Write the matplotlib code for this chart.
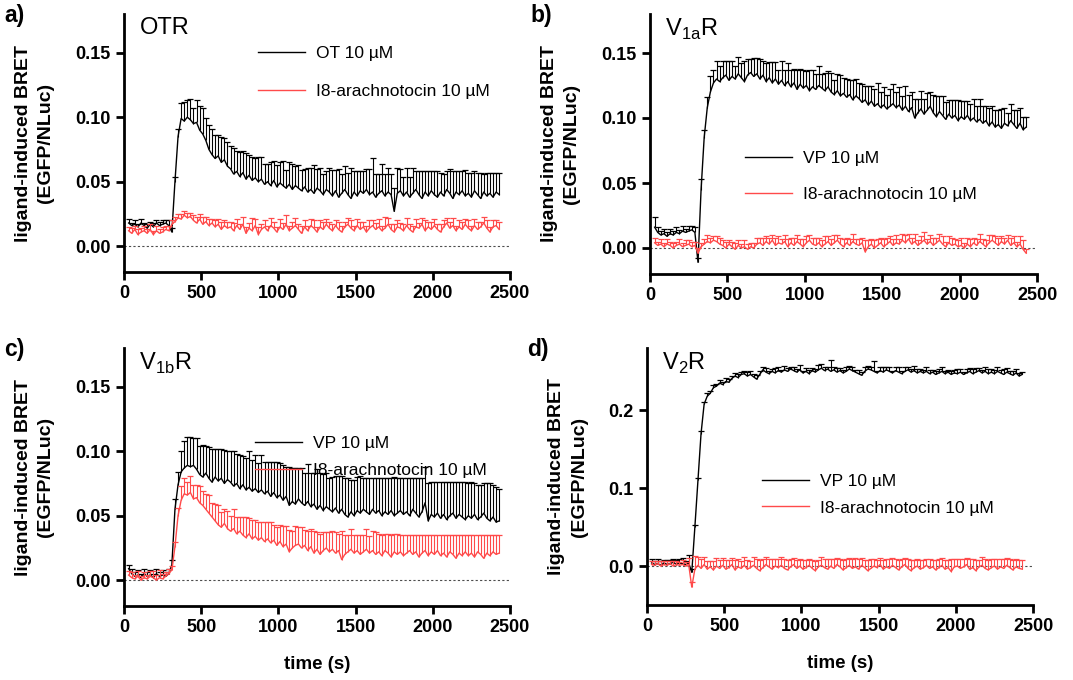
import matplotlib.pyplot as plt
import numpy as np
from matplotlib.ticker import FormatStrFormatter

plt.rcParams['font.family'] = ['Liberation Sans', 'DejaVu Sans']

# sampling grid of the kinetic read (s)
time_s = np.arange(30, 2431, 20)

# ---- a) OTR ----
ot_otr = [
    0.018, 0.016, 0.017, 0.015, 0.018, 0.016, 0.014, 0.017, 0.015, 0.018, 0.016,
    0.017, 0.018, 0.016, 0.011, 0.050, 0.085, 0.099, 0.097, 0.100, 0.098, 0.095,
    0.096, 0.090, 0.087, 0.082, 0.075, 0.071, 0.068, 0.070, 0.065, 0.067, 0.062,
    0.060, 0.056, 0.058, 0.054, 0.057, 0.052, 0.055, 0.051, 0.053, 0.050, 0.052,
    0.048, 0.050, 0.047, 0.051, 0.046, 0.049, 0.047, 0.045, 0.048, 0.044, 0.047,
    0.045, 0.043, 0.046, 0.042, 0.044, 0.041, 0.045, 0.043, 0.040, 0.044, 0.042,
    0.039, 0.043, 0.038, 0.041, 0.044, 0.040, 0.037, 0.042, 0.039, 0.043, 0.041,
    0.044, 0.040, 0.042, 0.038, 0.041, 0.043, 0.039, 0.042, 0.040, 0.027, 0.041,
    0.043, 0.039, 0.042, 0.038, 0.041, 0.044, 0.040, 0.037, 0.042, 0.039, 0.043,
    0.040, 0.038, 0.042, 0.039, 0.044, 0.041, 0.037, 0.042, 0.040, 0.043, 0.039,
    0.041, 0.038, 0.043, 0.040, 0.037, 0.042, 0.039, 0.041, 0.038, 0.042, 0.040]
ot_otr_err = [
    0.003, 0.002, 0.003, 0.002, 0.003, 0.002, 0.003, 0.002, 0.003, 0.002, 0.003,
    0.003, 0.002, 0.004, 0.003, 0.004, 0.006, 0.012, 0.015, 0.013, 0.016, 0.012,
    0.017, 0.019, 0.020, 0.017, 0.019, 0.020, 0.018, 0.016, 0.020, 0.017, 0.019,
    0.018, 0.020, 0.016, 0.019, 0.017, 0.020, 0.016, 0.018, 0.015, 0.019, 0.017,
    0.016, 0.014, 0.018, 0.015, 0.017, 0.016, 0.019, 0.014, 0.017, 0.020, 0.015,
    0.018, 0.016, 0.014, 0.019, 0.017, 0.022, 0.015, 0.018, 0.016, 0.014, 0.019,
    0.020, 0.016, 0.022, 0.015, 0.018, 0.017, 0.024, 0.016, 0.019, 0.015, 0.017,
    0.016, 0.020, 0.026, 0.018, 0.015, 0.021, 0.017, 0.019, 0.016, 0.018, 0.020,
    0.017, 0.015, 0.019, 0.016, 0.020, 0.014, 0.018, 0.021, 0.016, 0.019, 0.015,
    0.018, 0.020, 0.015, 0.017, 0.014, 0.019, 0.021, 0.016, 0.018, 0.015, 0.020,
    0.016, 0.019, 0.015, 0.017, 0.020, 0.014, 0.018, 0.016, 0.019, 0.015, 0.017]
i8_otr = [
    0.012, 0.010, 0.013, 0.009, 0.011, 0.012, 0.010, 0.013, 0.009, 0.012, 0.010,
    0.011, 0.013, 0.012, 0.017, 0.019, 0.022, 0.021, 0.024, 0.022, 0.023, 0.020,
    0.018, 0.021, 0.017, 0.019, 0.016, 0.018, 0.015, 0.017, 0.013, 0.016, 0.014,
    0.015, 0.012, 0.016, 0.013, 0.017, 0.010, 0.014, 0.012, 0.016, 0.009, 0.013,
    0.015, 0.012, 0.016, 0.014, 0.011, 0.015, 0.013, 0.017, 0.012, 0.014, 0.016,
    0.013, 0.010, 0.015, 0.012, 0.016, 0.014, 0.011, 0.015, 0.013, 0.017, 0.014,
    0.012, 0.016, 0.013, 0.011, 0.015, 0.017, 0.014, 0.012, 0.016, 0.013, 0.015,
    0.011, 0.014, 0.016, 0.013, 0.015, 0.012, 0.014, 0.017, 0.013, 0.011, 0.015,
    0.014, 0.012, 0.016, 0.013, 0.011, 0.015, 0.014, 0.017, 0.012, 0.015, 0.013,
    0.016, 0.013, 0.011, 0.015, 0.018, 0.014, 0.016, 0.012, 0.015, 0.013, 0.017,
    0.014, 0.012, 0.016, 0.013, 0.015, 0.018, 0.014, 0.011, 0.015, 0.016, 0.013]
i8_otr_err = [
    0.003, 0.004, 0.003, 0.004, 0.003, 0.004, 0.003, 0.004, 0.003, 0.004, 0.003,
    0.004, 0.003, 0.004, 0.003, 0.004, 0.003, 0.004, 0.003, 0.004, 0.003, 0.004,
    0.005, 0.004, 0.006, 0.004, 0.005, 0.003, 0.005, 0.004, 0.006, 0.004, 0.005,
    0.004, 0.006, 0.005, 0.004, 0.006, 0.005, 0.004, 0.010, 0.005, 0.006, 0.004,
    0.005, 0.004, 0.006, 0.005, 0.004, 0.006, 0.005, 0.007, 0.004, 0.005, 0.006,
    0.004, 0.006, 0.005, 0.004, 0.005, 0.006, 0.004, 0.005, 0.006, 0.004, 0.005,
    0.005, 0.004, 0.006, 0.005, 0.004, 0.005, 0.006, 0.004, 0.005, 0.006, 0.004,
    0.005, 0.006, 0.004, 0.005, 0.006, 0.004, 0.009, 0.005, 0.004, 0.006, 0.005,
    0.004, 0.005, 0.006, 0.004, 0.005, 0.006, 0.004, 0.005, 0.008, 0.004, 0.006,
    0.005, 0.004, 0.006, 0.005, 0.004, 0.005, 0.006, 0.004, 0.005, 0.006, 0.004,
    0.006, 0.004, 0.005, 0.006, 0.004, 0.005, 0.006, 0.004, 0.005, 0.004, 0.006]

# ---- b) V1aR ----
vp_v1a = [
    0.016, 0.012, 0.010, 0.011, 0.009, 0.011, 0.010, 0.012, 0.011, 0.013, 0.012,
    0.013, 0.014, 0.012, -0.011, 0.045, 0.085, 0.108, 0.120, 0.127, 0.130, 0.128,
    0.131, 0.133, 0.129, 0.132, 0.130, 0.134, 0.131, 0.128, 0.133, 0.135, 0.132,
    0.134, 0.130, 0.133, 0.128, 0.131, 0.127, 0.130, 0.126, 0.129, 0.125, 0.128,
    0.124, 0.127, 0.122, 0.126, 0.123, 0.125, 0.121, 0.124, 0.122, 0.125, 0.123,
    0.121, 0.124, 0.120, 0.118, 0.121, 0.117, 0.119, 0.116, 0.118, 0.114, 0.117,
    0.115, 0.112, 0.114, 0.110, 0.113, 0.109, 0.111, 0.108, 0.110, 0.107, 0.109,
    0.111, 0.108, 0.110, 0.106, 0.109, 0.105, 0.108, 0.100, 0.104, 0.107, 0.103,
    0.106, 0.109, 0.104, 0.101, 0.105, 0.102, 0.099, 0.103, 0.100, 0.102, 0.098,
    0.101, 0.099, 0.102, 0.098, 0.100, 0.097, 0.099, 0.096, 0.098, 0.094, 0.097,
    0.093, 0.095, 0.092, 0.096, 0.094, 0.098, 0.095, 0.092, 0.096, 0.091, 0.093]
vp_v1a_err = [
    0.008, 0.004, 0.003, 0.004, 0.003, 0.004, 0.003, 0.004, 0.003, 0.004, 0.003,
    0.004, 0.003, 0.004, 0.003, 0.008, 0.006, 0.008, 0.012, 0.010, 0.014, 0.012,
    0.013, 0.011, 0.015, 0.012, 0.010, 0.013, 0.011, 0.016, 0.012, 0.010, 0.014,
    0.012, 0.015, 0.011, 0.014, 0.012, 0.016, 0.013, 0.011, 0.015, 0.012, 0.014,
    0.013, 0.011, 0.015, 0.012, 0.014, 0.011, 0.016, 0.013, 0.012, 0.015, 0.011,
    0.014, 0.012, 0.015, 0.011, 0.013, 0.016, 0.012, 0.014, 0.011, 0.015, 0.013,
    0.012, 0.014, 0.011, 0.015, 0.012, 0.013, 0.016, 0.012, 0.014, 0.011, 0.013,
    0.015, 0.012, 0.014, 0.011, 0.016, 0.013, 0.012, 0.015, 0.011, 0.014, 0.012,
    0.013, 0.011, 0.014, 0.016, 0.012, 0.015, 0.013, 0.011, 0.014, 0.012, 0.016,
    0.012, 0.014, 0.011, 0.013, 0.015, 0.012, 0.016, 0.013, 0.011, 0.014, 0.012,
    0.013, 0.011, 0.015, 0.012, 0.010, 0.013, 0.011, 0.014, 0.012, 0.010, 0.008]
i8_v1a = [
    0.004, 0.002, 0.003, 0.001, 0.003, 0.002, 0.000, 0.002, 0.003, 0.001, 0.002,
    0.003, 0.001, 0.002, -0.004, 0.001, 0.003, 0.005, 0.004, 0.006, 0.005, 0.003,
    0.002, 0.000, 0.003, 0.001, -0.001, 0.002, 0.000, 0.001, -0.001, 0.001, 0.000,
    0.003, 0.004, 0.002, 0.005, 0.003, 0.006, 0.002, 0.004, 0.003, 0.005, 0.001,
    0.004, 0.002, 0.005, 0.003, 0.001, 0.004, 0.006, 0.003, 0.002, 0.004, 0.001,
    0.003, 0.005, 0.002, 0.004, 0.006, 0.003, 0.001, 0.004, 0.002, 0.005, 0.003,
    0.002, 0.004, -0.003, 0.001, 0.003, 0.000, 0.002, 0.004, 0.001, 0.003, 0.005,
    0.002, 0.004, 0.003, 0.006, 0.004, 0.007, 0.003, 0.005, 0.002, 0.004, 0.006,
    0.003, 0.005, 0.002, 0.004, 0.006, 0.003, 0.001, 0.004, 0.002, 0.003, 0.001,
    0.002, 0.000, 0.003, 0.001, 0.004, 0.002, 0.005, 0.003, 0.001, 0.004, 0.006,
    0.004, 0.002, 0.005, 0.003, 0.006, 0.002, 0.004, 0.001, 0.003, -0.001, -0.004]
i8_v1a_err = [
    0.004, 0.003, 0.004, 0.003, 0.004, 0.003, 0.004, 0.003, 0.004, 0.003, 0.004,
    0.003, 0.004, 0.003, 0.004, 0.003, 0.004, 0.005, 0.004, 0.003, 0.004, 0.005,
    0.004, 0.005, 0.003, 0.004, 0.005, 0.004, 0.003, 0.005, 0.004, 0.003, 0.004,
    0.005, 0.004, 0.006, 0.004, 0.005, 0.004, 0.006, 0.005, 0.004, 0.005, 0.006,
    0.004, 0.006, 0.005, 0.004, 0.006, 0.005, 0.004, 0.005, 0.006, 0.004, 0.005,
    0.006, 0.004, 0.005, 0.006, 0.004, 0.005, 0.006, 0.004, 0.005, 0.006, 0.004,
    0.005, 0.004, 0.009, 0.005, 0.004, 0.006, 0.005, 0.004, 0.006, 0.005, 0.004,
    0.005, 0.006, 0.004, 0.005, 0.006, 0.004, 0.005, 0.006, 0.004, 0.005, 0.006,
    0.004, 0.005, 0.006, 0.004, 0.005, 0.006, 0.004, 0.005, 0.006, 0.004, 0.005,
    0.006, 0.004, 0.005, 0.006, 0.004, 0.005, 0.006, 0.004, 0.005, 0.006, 0.004,
    0.005, 0.006, 0.004, 0.005, 0.004, 0.006, 0.005, 0.004, 0.006, 0.007, 0.003]

# ---- c) V1bR ----
vp_v1b = [
    0.009, 0.005, 0.003, 0.004, 0.002, 0.005, 0.003, 0.004, 0.002, 0.005, 0.003,
    0.004, 0.003, 0.005, 0.012, 0.055, 0.074, 0.084, 0.087, 0.089, 0.088, 0.089,
    0.086, 0.082, 0.080, 0.083, 0.079, 0.076, 0.080, 0.077, 0.079, 0.075, 0.078,
    0.076, 0.073, 0.075, 0.071, 0.074, 0.070, 0.072, 0.069, 0.071, 0.068, 0.070,
    0.067, 0.069, 0.065, 0.068, 0.064, 0.066, 0.062, 0.065, 0.058, 0.061, 0.059,
    0.063, 0.060, 0.058, 0.061, 0.057, 0.059, 0.055, 0.058, 0.054, 0.057, 0.055,
    0.053, 0.056, 0.052, 0.055, 0.051, 0.049, 0.053, 0.050, 0.054, 0.052, 0.055,
    0.053, 0.051, 0.055, 0.052, 0.054, 0.050, 0.053, 0.051, 0.054, 0.050, 0.052,
    0.054, 0.051, 0.053, 0.050, 0.055, 0.052, 0.049, 0.053, 0.060, 0.046, 0.051,
    0.049, 0.052, 0.048, 0.051, 0.047, 0.050, 0.052, 0.048, 0.051, 0.049, 0.047,
    0.050, 0.048, 0.051, 0.047, 0.049, 0.052, 0.048, 0.046, 0.049, 0.045, 0.046]
vp_v1b_err = [
    0.003, 0.004, 0.003, 0.004, 0.003, 0.004, 0.003, 0.004, 0.003, 0.004, 0.003,
    0.004, 0.003, 0.004, 0.004, 0.008, 0.010, 0.016, 0.021, 0.022, 0.023, 0.021,
    0.024, 0.022, 0.025, 0.021, 0.024, 0.026, 0.022, 0.025, 0.023, 0.026, 0.022,
    0.024, 0.027, 0.023, 0.026, 0.022, 0.025, 0.028, 0.024, 0.026, 0.023, 0.027,
    0.025, 0.023, 0.027, 0.024, 0.028, 0.025, 0.027, 0.023, 0.030, 0.026, 0.028,
    0.024, 0.027, 0.025, 0.029, 0.026, 0.024, 0.031, 0.025, 0.028, 0.026, 0.024,
    0.027, 0.025, 0.029, 0.026, 0.028, 0.030, 0.025, 0.028, 0.026, 0.029, 0.024,
    0.026, 0.028, 0.024, 0.027, 0.025, 0.029, 0.026, 0.028, 0.025, 0.030, 0.027,
    0.025, 0.028, 0.026, 0.029, 0.024, 0.027, 0.030, 0.026, 0.028, 0.029, 0.025,
    0.027, 0.024, 0.028, 0.025, 0.029, 0.026, 0.024, 0.028, 0.025, 0.027, 0.029,
    0.025, 0.028, 0.024, 0.027, 0.025, 0.023, 0.027, 0.029, 0.025, 0.027, 0.025]
i8_v1b = [
    0.004, 0.002, 0.001, 0.003, 0.000, 0.002, 0.001, 0.003, 0.002, 0.000, 0.002,
    0.001, 0.003, 0.005, 0.008, 0.026, 0.050, 0.062, 0.067, 0.066, 0.068, 0.063,
    0.064, 0.060, 0.058, 0.055, 0.052, 0.049, 0.046, 0.043, 0.041, 0.044, 0.040,
    0.038, 0.040, 0.036, 0.038, 0.035, 0.033, 0.036, 0.032, 0.034, 0.031, 0.033,
    0.030, 0.032, 0.029, 0.031, 0.027, 0.030, 0.026, 0.028, 0.022, 0.025, 0.027,
    0.028, 0.025, 0.027, 0.023, 0.026, 0.021, 0.024, 0.020, 0.023, 0.025, 0.022,
    0.024, 0.021, 0.023, 0.016, 0.020, 0.022, 0.024, 0.021, 0.023, 0.020, 0.022,
    0.024, 0.021, 0.023, 0.020, 0.022, 0.019, 0.023, 0.021, 0.018, 0.022, 0.020,
    0.022, 0.019, 0.021, 0.023, 0.020, 0.022, 0.018, 0.021, 0.023, 0.019, 0.022,
    0.020, 0.023, 0.019, 0.021, 0.018, 0.022, 0.020, 0.017, 0.021, 0.019, 0.022,
    0.019, 0.021, 0.018, 0.022, 0.020, 0.017, 0.021, 0.019, 0.022, 0.020, 0.021]
i8_v1b_err = [
    0.003, 0.004, 0.003, 0.004, 0.003, 0.004, 0.003, 0.004, 0.005, 0.004, 0.006,
    0.004, 0.003, 0.004, 0.003, 0.004, 0.006, 0.011, 0.012, 0.010, 0.013, 0.011,
    0.010, 0.013, 0.011, 0.012, 0.014, 0.011, 0.013, 0.015, 0.012, 0.011, 0.014,
    0.012, 0.015, 0.013, 0.011, 0.014, 0.016, 0.012, 0.015, 0.013, 0.014, 0.012,
    0.015, 0.013, 0.016, 0.012, 0.014, 0.013, 0.016, 0.014, 0.017, 0.013, 0.015,
    0.013, 0.016, 0.012, 0.015, 0.014, 0.017, 0.013, 0.016, 0.014, 0.012, 0.015,
    0.014, 0.016, 0.013, 0.022, 0.015, 0.013, 0.016, 0.014, 0.012, 0.015, 0.013,
    0.016, 0.013, 0.015, 0.017, 0.014, 0.016, 0.013, 0.015, 0.017, 0.014, 0.016,
    0.013, 0.016, 0.014, 0.012, 0.015, 0.013, 0.017, 0.014, 0.012, 0.016, 0.013,
    0.015, 0.012, 0.016, 0.014, 0.017, 0.013, 0.015, 0.018, 0.014, 0.016, 0.013,
    0.016, 0.014, 0.017, 0.013, 0.015, 0.018, 0.014, 0.016, 0.013, 0.015, 0.014]

# ---- d) V2R ----
vp_v2 = [
    0.004, 0.002, 0.003, 0.001, 0.004, 0.002, 0.003, 0.005, 0.002, 0.004, 0.003,
    0.002, 0.004, -0.008, 0.050, 0.110, 0.170, 0.208, 0.218, 0.222, 0.229, 0.231,
    0.235, 0.233, 0.237, 0.236, 0.241, 0.244, 0.242, 0.246, 0.247, 0.244, 0.246,
    0.243, 0.240, 0.246, 0.252, 0.249, 0.247, 0.250, 0.248, 0.251, 0.249, 0.252,
    0.250, 0.253, 0.251, 0.249, 0.252, 0.248, 0.250, 0.247, 0.251, 0.249, 0.252,
    0.254, 0.251, 0.253, 0.250, 0.252, 0.249, 0.251, 0.248, 0.250, 0.253, 0.251,
    0.249, 0.247, 0.245, 0.250, 0.253, 0.252, 0.250, 0.248, 0.251, 0.249, 0.252,
    0.250, 0.248, 0.251, 0.249, 0.247, 0.250, 0.252, 0.249, 0.251, 0.248, 0.250,
    0.248, 0.250, 0.247, 0.249, 0.246, 0.248, 0.250, 0.247, 0.249, 0.246, 0.248,
    0.247, 0.249, 0.246, 0.248, 0.250, 0.247, 0.249, 0.251, 0.248, 0.250, 0.247,
    0.249, 0.247, 0.250, 0.248, 0.246, 0.249, 0.247, 0.245, 0.248, 0.244, 0.246]
vp_v2_err = [
    0.005, 0.004, 0.006, 0.005, 0.004, 0.006, 0.005, 0.004, 0.006, 0.005, 0.007,
    0.005, 0.010, 0.004, 0.003, 0.003, 0.003, 0.003, 0.004, 0.003, 0.004, 0.003,
    0.004, 0.003, 0.005, 0.004, 0.003, 0.004, 0.005, 0.003, 0.004, 0.005, 0.004,
    0.003, 0.005, 0.004, 0.003, 0.005, 0.004, 0.003, 0.006, 0.004, 0.003, 0.005,
    0.004, 0.003, 0.005, 0.004, 0.006, 0.003, 0.004, 0.005, 0.003, 0.004, 0.006,
    0.005, 0.004, 0.003, 0.014, 0.004, 0.005, 0.003, 0.004, 0.006, 0.004, 0.005,
    0.003, 0.005, 0.004, 0.006, 0.004, 0.004, 0.013, 0.003, 0.004, 0.006, 0.004,
    0.005, 0.003, 0.004, 0.006, 0.004, 0.005, 0.003, 0.004, 0.006, 0.005, 0.003,
    0.004, 0.006, 0.005, 0.003, 0.004, 0.005, 0.006, 0.004, 0.003, 0.005, 0.004,
    0.006, 0.004, 0.003, 0.005, 0.004, 0.006, 0.005, 0.003, 0.004, 0.005, 0.006,
    0.004, 0.005, 0.006, 0.004, 0.007, 0.005, 0.004, 0.006, 0.005, 0.004, 0.003]
i8_v2 = [
    0.002, 0.001, 0.003, 0.000, 0.002, 0.001, 0.003, 0.000, 0.002, 0.001, 0.002,
    0.000, 0.002, -0.027, -0.004, 0.001, -0.003, 0.002, -0.004, -0.001, -0.005, 0.000,
    -0.003, 0.001, -0.004, -0.002, 0.002, -0.005, -0.001, -0.003, 0.001, -0.004, -0.002,
    0.001, -0.003, -0.006, -0.002, 0.002, -0.001, -0.004, 0.000, -0.002, 0.001, -0.003,
    -0.005, -0.001, 0.002, -0.003, 0.000, -0.004, -0.002, 0.001, -0.003, -0.006, -0.001,
    0.001, -0.002, -0.004, 0.000, -0.003, 0.002, -0.001, -0.005, -0.002, 0.001, -0.003,
    -0.001, -0.004, 0.001, -0.002, -0.006, -0.003, 0.000, -0.002, 0.002, -0.004, -0.001,
    -0.003, 0.001, -0.002, -0.005, -0.001, 0.002, -0.003, -0.006, -0.002, 0.000, -0.004,
    -0.002, 0.001, -0.003, -0.001, -0.005, -0.002, 0.001, -0.004, -0.002, -0.007, -0.001,
    0.000, -0.003, -0.001, 0.002, -0.004, -0.002, -0.006, -0.001, 0.001, -0.003, -0.005,
    -0.002, 0.000, -0.004, -0.001, -0.003, 0.001, -0.002, -0.005, -0.001, -0.003, -0.004]
i8_v2_err = [
    0.004, 0.005, 0.004, 0.006, 0.004, 0.005, 0.004, 0.006, 0.005, 0.004, 0.006,
    0.005, 0.008, 0.006, 0.017, 0.010, 0.012, 0.009, 0.011, 0.008, 0.012, 0.010,
    0.011, 0.009, 0.012, 0.010, 0.008, 0.013, 0.010, 0.009, 0.011, 0.012, 0.009,
    0.010, 0.012, 0.014, 0.011, 0.009, 0.010, 0.013, 0.009, 0.011, 0.010, 0.012,
    0.013, 0.010, 0.008, 0.011, 0.009, 0.012, 0.010, 0.008, 0.011, 0.013, 0.009,
    0.010, 0.011, 0.013, 0.009, 0.012, 0.008, 0.010, 0.013, 0.011, 0.009, 0.012,
    0.011, 0.013, 0.009, 0.010, 0.014, 0.012, 0.009, 0.010, 0.008, 0.012, 0.010,
    0.012, 0.009, 0.011, 0.013, 0.010, 0.008, 0.012, 0.014, 0.010, 0.009, 0.012,
    0.010, 0.008, 0.012, 0.009, 0.013, 0.011, 0.009, 0.012, 0.010, 0.016, 0.010,
    0.009, 0.012, 0.010, 0.008, 0.013, 0.011, 0.014, 0.009, 0.010, 0.012, 0.013,
    0.011, 0.009, 0.013, 0.010, 0.012, 0.009, 0.011, 0.013, 0.010, 0.011, 0.012]

RED = '#ff4a4a'


def trace(ax, t, y, err, color, label):
    y = np.asarray(y)
    err = np.asarray(err)
    ax.vlines(t, y, y + err, color=color, lw=0.8)
    ax.plot(t, y + err, ls='none', marker='_', ms=5, mew=0.9, color=color)
    ax.plot(t, y, color=color, lw=1.0, label=label)


fig = plt.figure(figsize=(10.73, 6.8), dpi=100)
W, H = 1073, 680
# axes boxes in pixels: left, top, right, bottom
boxes = [(124, 14, 510, 272), (650, 14, 1037, 274),
         (124, 348, 510, 606), (647, 348, 1033, 605)]

panels = [
    ('a)', 'OTR', 'OT 10 µM', ot_otr, ot_otr_err, i8_otr, i8_otr_err,
     (-0.02, 0.18), [0, 0.05, 0.10, 0.15], '%.2f', (0.348, 0.876), 1.3),
    ('b)', r'V$_{\mathregular{1a}}$R', 'VP 10 µM', vp_v1a, vp_v1a_err, i8_v1a, i8_v1a_err,
     (-0.02, 0.18), [0, 0.05, 0.10, 0.15], '%.2f', (0.245, 0.473), 1.2),
    ('c)', r'V$_{\mathregular{1b}}$R', 'VP 10 µM', vp_v1b, vp_v1b_err, i8_v1b, i8_v1b_err,
     (-0.02, 0.18), [0, 0.05, 0.10, 0.15], '%.2f', (0.339, 0.659), 0.7),
    ('d)', r'V$_{\mathregular{2}}$R', 'VP 10 µM', vp_v2, vp_v2_err, i8_v2, i8_v2_err,
     (-0.05, 0.28), [0, 0.1, 0.2], '%.1f', (0.298, 0.51), 0.65),
]

for k, (box, p) in enumerate(zip(boxes, panels)):
    letter, title, lab, blk, blk_err, red, red_err, ylim, yt, fmt, lpos, lsp = p
    l, t_, r, b = box
    ax = fig.add_axes([l / W, 1 - b / H, (r - l) / W, (b - t_) / H])
    ax.axhline(0, color='0.3', lw=0.8, ls=(0, (2, 2)), zorder=0)
    trace(ax, time_s, blk, blk_err, 'black', lab)
    trace(ax, time_s, red, red_err, RED, 'I8-arachnotocin 10 µM')

    ax.set_xlim(0, 2500)
    ax.set_ylim(*ylim)
    ax.set_xticks([0, 500, 1000, 1500, 2000, 2500])
    ax.set_yticks(yt)
    ax.yaxis.set_major_formatter(FormatStrFormatter(fmt))
    for s in ['top', 'right']:
        ax.spines[s].set_visible(False)
    for s in ['left', 'bottom']:
        ax.spines[s].set_linewidth(2)
    ax.tick_params(direction='out', length=6, width=2, labelsize=13)
    plt.setp(ax.get_xticklabels() + ax.get_yticklabels(), fontweight='bold')

    ax.set_ylabel('ligand-induced BRET\n(EGFP/NLuc)', fontsize=14,
                  fontweight='bold', labelpad=15, linespacing=1.45)
    if k >= 2:
        ax.set_xlabel('time (s)', fontsize=13.5, fontweight='bold', labelpad=14)

    ax.text(0.04, 0.99, title, transform=ax.transAxes, fontsize=17,
            va='top', ha='left')
    ax.legend(loc='upper left', bbox_to_anchor=lpos, frameon=False,
              fontsize=12.5, handlelength=2.7, handletextpad=0.65,
              labelspacing=lsp, borderpad=0, borderaxespad=0)
    fig.text((l - 120) / W, 1 - (t_ - 10) / H, letter, fontsize=16.5,
             fontweight='bold', va='top', ha='left')

fig.savefig('out.png', dpi=100)
